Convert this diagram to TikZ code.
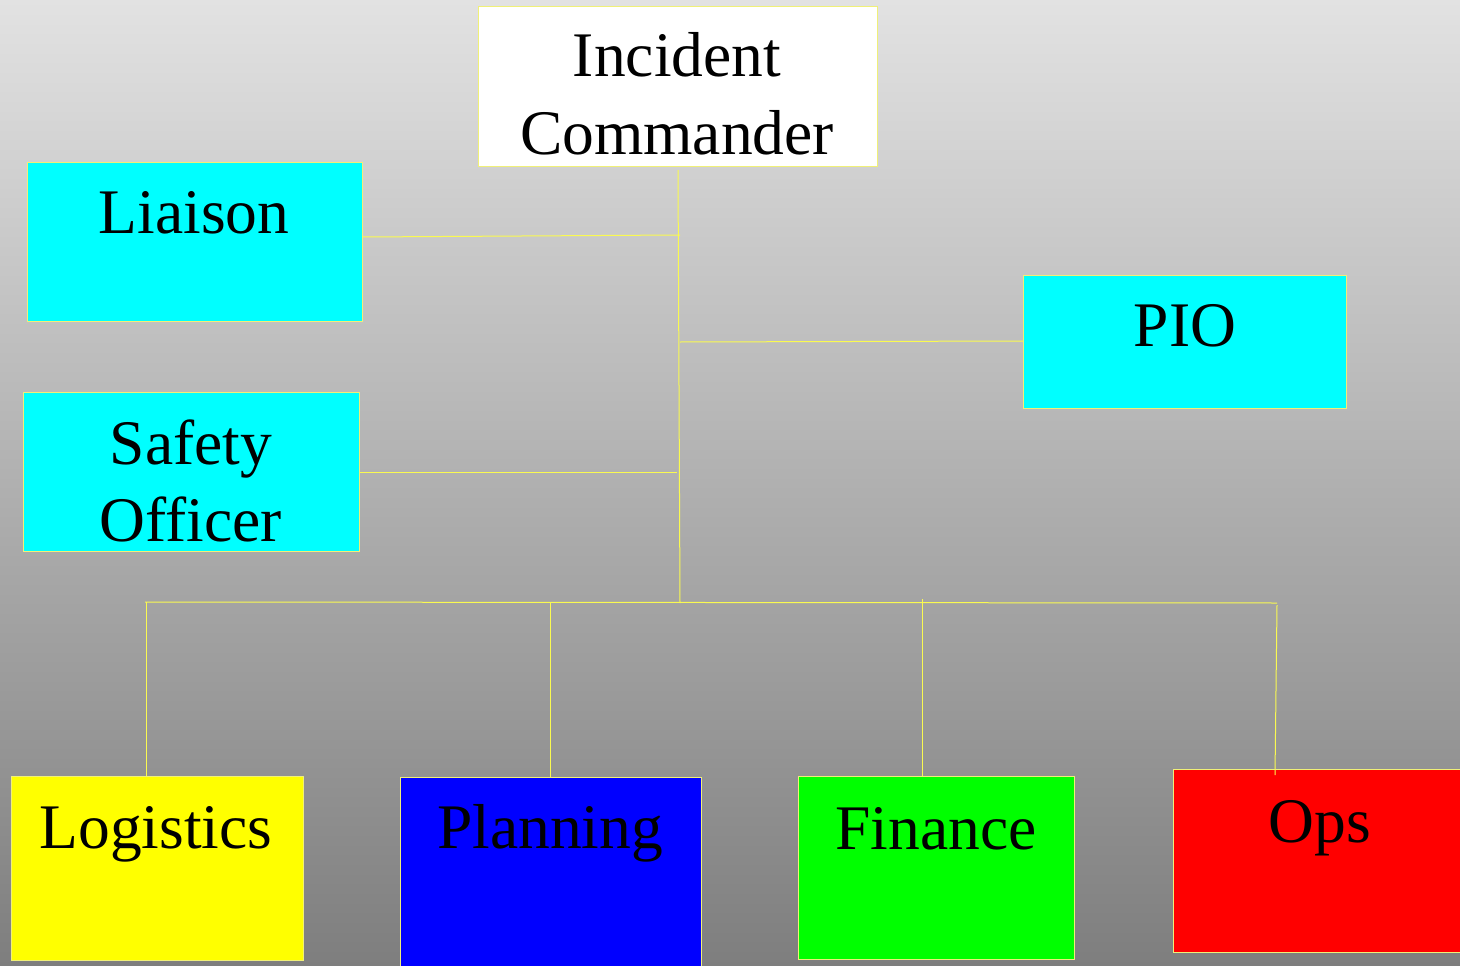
\documentclass[tikz,border=0pt]{standalone}
\usepackage{fontspec}
\setmainfont{Liberation Serif}
\begin{document}
\begin{tikzpicture}[x=1pt,y=1pt,
  box/.style={draw=boxedge, line width=0.9pt, inner sep=0pt, anchor=north west},
  lbl/.style={anchor=base, inner sep=0pt, align=center, text=black,
    font=\fontsize{63.5}{77}\selectfont},
  link/.style={draw=linkyellow, line width=1pt}]
\definecolor{boxedge}{RGB}{240,240,120}
\definecolor{linkyellow}{RGB}{250,250,80}
\definecolor{bgtop}{RGB}{226,226,226}
\definecolor{bgbottom}{RGB}{126,126,126}
\definecolor{fillcyan}{RGB}{0,255,255}
\definecolor{fillyellow}{RGB}{255,255,0}
\definecolor{fillblue}{RGB}{0,0,255}
\definecolor{fillgreen}{RGB}{0,255,0}
\definecolor{fillred}{RGB}{255,0,0}

% background
\useasboundingbox (0,0) rectangle (1460,-966);
\shade[top color=bgtop, bottom color=bgbottom] (0,0) rectangle (1460,-966);

% boxes
\node[box, fill=white, minimum width=399pt, minimum height=160pt] (ic) at (478,-6) {};
\node[box, fill=fillcyan, minimum width=335pt, minimum height=159pt] (lia) at (27,-162) {};
\node[box, fill=fillcyan, minimum width=323pt, minimum height=133pt] (pio) at (1023,-275) {};
\node[box, fill=fillcyan, minimum width=336pt, minimum height=159pt] (saf) at (23,-392) {};
\node[box, fill=fillyellow, minimum width=292pt, minimum height=184pt] (log) at (11,-776) {};
\node[box, fill=fillblue, minimum width=301pt, minimum height=200pt] (pln) at (400,-777) {};
\node[box, fill=fillgreen, minimum width=276pt, minimum height=183pt] (fin) at (798,-776) {};
\node[box, fill=fillred, minimum width=300pt, minimum height=183pt] (ops) at (1173,-769) {};

% labels
\node[lbl] (ic-t1) at (677,-77) {Incident};
\node[lbl] (ic-t2) at (677,-154) {Commander};
\node[lbl] (lia-t) at (194,-233) {Liaison};
\node[lbl] (pio-t) at (1185,-346) {PIO};
\node[lbl] (saf-t1) at (191,-464) {Safety};
\node[lbl] (saf-t2) at (191,-541) {Officer};
\node[lbl] (log-t) at (156,-848) {Logistics};
\node[lbl] (pln-t) at (550,-848) {Planning};
\node[lbl] (fin-t) at (936,-849) {Finance};
\node[lbl] (ops-t) at (1320,-842) {Ops};

% junction points
\coordinate (trunktop) at (678,-170);
\coordinate (jlia) at (680,-235);
\coordinate (jpio) at (680,-342);
\coordinate (jsaf) at (677,-472);
\coordinate (trunkbot) at (680,-603);
\coordinate (busl) at (145,-602);
\coordinate (busr) at (1277,-603);
\coordinate (dlog) at (146,-602);
\coordinate (dpln) at (550,-602);
\coordinate (dfin) at (922,-599);
\coordinate (dops) at (1277,-605);
\coordinate (opsin) at (1275,-775);

% connectors
\draw[link] (trunktop) -- (trunkbot);
\draw[link] (lia.east |- 0,-237) -- (jlia);
\draw[link] (jpio) -- (pio.west |- 0,-341);
\draw[link] (saf.east |- 0,-472) -- (jsaf);
\draw[link] (busl) -- (busr);
\draw[link] (dlog) -- (log.north -| dlog);
\draw[link] (dpln) -- (pln.north -| dpln);
\draw[link] (dfin) -- (fin.north -| dfin);
\draw[link] (dops) -- (opsin);
\end{tikzpicture}
\end{document}
